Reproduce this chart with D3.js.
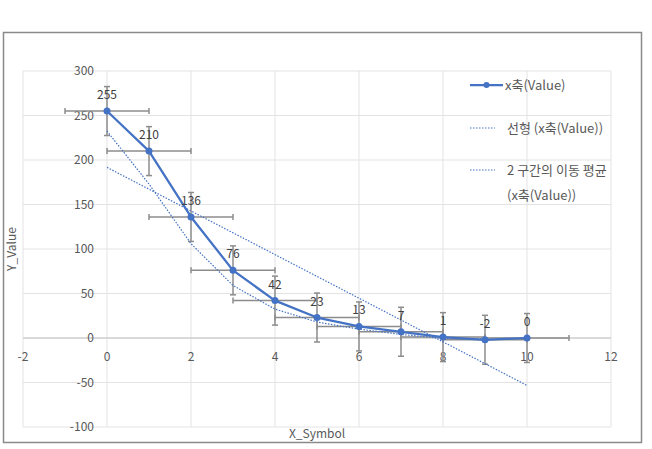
<!DOCTYPE html>
<html>
<head>
<meta charset="utf-8">
<style>
  body { margin: 0; background: #fff; }
  svg text { font-family: "Noto Sans CJK KR", "Noto Sans", sans-serif; }
</style>
</head>
<body>
<div id="container"></div>
<script src="https://d3js.org/d3.v7.js"></script>
<script>

// Data
const xValues = [0, 1, 2, 3, 4, 5, 6, 7, 8, 9, 10];
const yValues = [255, 210, 136, 76, 42, 23, 13, 7, 1, -2, 0];
const xError = 1;      // horizontal error bars (fixed)
const yError = 27.5;   // vertical error bars (standard error)
const linearTrend = [[0, 191.7], [10, -53.3]];
const movingAvgX = [0, 1, 2, 3, 4, 5, 6, 7, 8, 9];
const movingAvgY = [232.5, 173, 106, 59, 32.5, 18, 10, 4, -0.5, -1];
const xTicks = [-2, 0, 2, 4, 6, 8, 10, 12];
const yTicks = [-100, -50, 0, 50, 100, 150, 200, 250, 300];
const legendLabels = ["x축(Value)", "선형 (x축(Value))", ["2 구간의 이동 평균", "(x축(Value))"]];

const width = 652;
const height = 449;
const blue = "#4472C4";
const gray = "#8c8c8c";
const textGray = "#595959";

const x = d3.scaleLinear().domain([-2, 12]).range([23, 611]);
const y = d3.scaleLinear().domain([-100, 300]).range([427, 71]);

const svg = d3.create("svg")
    .attr("width", width)
    .attr("height", height);

svg.append("rect")
    .attr("x", 0).attr("y", 0).attr("width", width).attr("height", height)
    .attr("fill", "#fff");

// chart border
svg.append("rect")
    .attr("x", 3.5).attr("y", 32.5).attr("width", 638).attr("height", 410)
    .attr("fill", "none")
    .attr("stroke", "#8a8a8a")
    .attr("stroke-width", 1.5);

// gridlines
svg.append("g")
    .selectAll("line")
    .data(yTicks)
    .join("line")
      .attr("x1", x(-2)).attr("x2", x(12))
      .attr("y1", d => y(d)).attr("y2", d => y(d))
      .attr("stroke", "#e3e3e3");

svg.append("g")
    .selectAll("line")
    .data(xTicks)
    .join("line")
      .attr("x1", d => x(d)).attr("x2", d => x(d))
      .attr("y1", y(300)).attr("y2", y(-100))
      .attr("stroke", "#e3e3e3");

// horizontal axis line at y = 0
svg.append("line")
    .attr("x1", x(-2)).attr("x2", x(12))
    .attr("y1", y(0)).attr("y2", y(0))
    .attr("stroke", "#d0d0d0")
    .attr("stroke-width", 1.5);

// y tick labels (axis sits at x = 0)
svg.append("g")
    .selectAll("text")
    .data(yTicks)
    .join("text")
      .attr("x", x(0) - 13)
      .attr("y", d => y(d))
      .attr("dy", "0.35em")
      .attr("text-anchor", "end")
      .attr("font-size", 12)
      .attr("fill", textGray)
      .text(d => d);

// x tick labels (axis sits at y = 0)
svg.append("g")
    .selectAll("text")
    .data(xTicks)
    .join("text")
      .attr("x", d => x(d))
      .attr("y", y(0) + 23)
      .attr("text-anchor", "middle")
      .attr("font-size", 12)
      .attr("fill", textGray)
      .text(d => d);

// axis titles
svg.append("text")
    .attr("x", (x(-2) + x(12)) / 2)
    .attr("y", 438)
    .attr("text-anchor", "middle")
    .attr("font-size", 12)
    .attr("fill", textGray)
    .text("X_Symbol");

svg.append("text")
    .attr("transform", `translate(16,${(y(300) + y(-100)) / 2}) rotate(-90)`)
    .attr("text-anchor", "middle")
    .attr("font-size", 12)
    .attr("fill", textGray)
    .text("Y_Value");

const points = xValues.map((d, i) => ({x: d, y: yValues[i]}));

// error bars
const err = svg.append("g")
    .attr("stroke", gray)
    .attr("stroke-width", 1.5);
points.forEach(p => {
  err.append("line")
      .attr("x1", x(p.x - xError)).attr("x2", x(p.x + xError))
      .attr("y1", y(p.y)).attr("y2", y(p.y));
  err.append("line")
      .attr("x1", x(p.x - xError)).attr("x2", x(p.x - xError))
      .attr("y1", y(p.y) - 3).attr("y2", y(p.y) + 3);
  err.append("line")
      .attr("x1", x(p.x + xError)).attr("x2", x(p.x + xError))
      .attr("y1", y(p.y) - 3).attr("y2", y(p.y) + 3);
  err.append("line")
      .attr("x1", x(p.x)).attr("x2", x(p.x))
      .attr("y1", y(p.y - yError)).attr("y2", y(p.y + yError));
  err.append("line")
      .attr("x1", x(p.x) - 3).attr("x2", x(p.x) + 3)
      .attr("y1", y(p.y - yError)).attr("y2", y(p.y - yError));
  err.append("line")
      .attr("x1", x(p.x) - 3).attr("x2", x(p.x) + 3)
      .attr("y1", y(p.y + yError)).attr("y2", y(p.y + yError));
});

const line = d3.line()
    .x(d => x(d[0]))
    .y(d => y(d[1]));

// trendlines
svg.append("path")
    .attr("fill", "none")
    .attr("stroke", blue)
    .attr("stroke-width", 1.2)
    .attr("stroke-dasharray", "1.5,1.5")
    .attr("d", line(linearTrend));

svg.append("path")
    .attr("fill", "none")
    .attr("stroke", blue)
    .attr("stroke-width", 1.2)
    .attr("stroke-dasharray", "1.5,1.5")
    .attr("d", line(movingAvgX.map((d, i) => [d, movingAvgY[i]])));

// main series
svg.append("path")
    .attr("fill", "none")
    .attr("stroke", blue)
    .attr("stroke-width", 2.25)
    .attr("stroke-linejoin", "round")
    .attr("d", line(points.map(p => [p.x, p.y])));

svg.append("g")
    .selectAll("circle")
    .data(points)
    .join("circle")
      .attr("cx", d => x(d.x))
      .attr("cy", d => y(d.y))
      .attr("r", 3.5)
      .attr("fill", blue);

// data labels
svg.append("g")
    .selectAll("text")
    .data(points)
    .join("text")
      .attr("x", d => x(d.x))
      .attr("y", d => y(d.y) - 12)
      .attr("text-anchor", "middle")
      .attr("font-size", 12)
      .attr("fill", "#404040")
      .text(d => d.y);

// legend
const legend = svg.append("g");
legend.append("line")
    .attr("x1", 470).attr("x2", 503).attr("y1", 85).attr("y2", 85)
    .attr("stroke", blue).attr("stroke-width", 2.25);
legend.append("circle")
    .attr("cx", 486.5).attr("cy", 85).attr("r", 3).attr("fill", blue);
legend.append("text")
    .attr("x", 505).attr("y", 85).attr("dy", "0.35em")
    .attr("font-size", 13).attr("fill", textGray)
    .text(legendLabels[0]);

[128, 170].forEach(ly => {
  legend.append("line")
      .attr("x1", 470).attr("x2", 495).attr("y1", ly).attr("y2", ly)
      .attr("stroke", blue).attr("stroke-width", 1.2)
      .attr("stroke-dasharray", "1.5,1.5");
});
legend.append("text")
    .attr("x", 507).attr("y", 128).attr("dy", "0.35em")
    .attr("font-size", 13).attr("fill", textGray)
    .text(legendLabels[1]);
legend.append("text")
    .attr("x", 507).attr("y", 170).attr("dy", "0.35em")
    .attr("font-size", 13).attr("fill", textGray)
    .text(legendLabels[2][0]);
legend.append("text")
    .attr("x", 507).attr("y", 195).attr("dy", "0.35em")
    .attr("font-size", 13).attr("fill", textGray)
    .text(legendLabels[2][1]);

document.getElementById("container").append(svg.node());
</script>
</body>
</html>
